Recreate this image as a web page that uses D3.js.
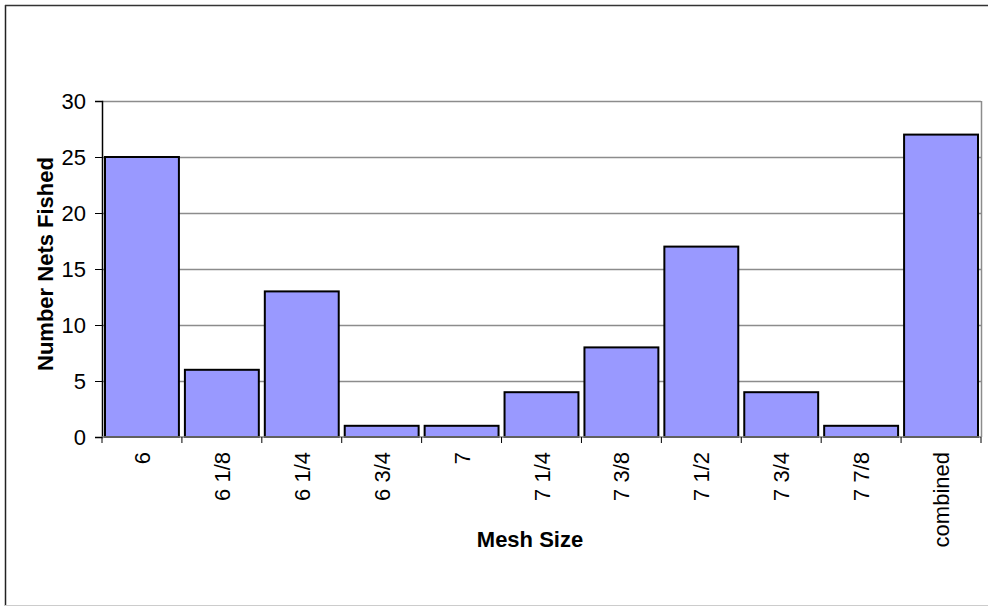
<!DOCTYPE html>
<html>
<head>
<meta charset="utf-8">
<script src="https://cdn.jsdelivr.net/npm/d3@7"></script>
<style>
  html, body { margin: 0; padding: 0; background: #fff; }
  svg { display: block; font-family: "Liberation Sans", Arial, sans-serif; }
</style>
</head>
<body>
<div id="chart"></div>
<script>
// Data
const meshSizes = ["6", "6 1/8", "6 1/4", "6 3/4", "7", "7 1/4", "7 3/8", "7 1/2", "7 3/4", "7 7/8", "combined"];
const netsFished = [25, 6, 13, 1, 1, 4, 8, 17, 4, 1, 27];
const yTicks = [0, 5, 10, 15, 20, 25, 30];

const width = 988;
const height = 606;
const plot = { left: 102, top: 101, right: 981, bottom: 437 };
const fontSize = 22;

const svg = d3.select("#chart").append("svg")
    .attr("width", width)
    .attr("height", height);

// outer chart frame
svg.append("line").attr("x1", 5.5).attr("x2", 5.5).attr("y1", 5).attr("y2", 606)
    .attr("stroke", "#222").attr("stroke-width", 1.5);
svg.append("line").attr("x1", 5).attr("x2", 988).attr("y1", 5.5).attr("y2", 5.5)
    .attr("stroke", "#333").attr("stroke-width", 1.5);
svg.append("line").attr("x1", 5).attr("x2", 988).attr("y1", 605.5).attr("y2", 605.5)
    .attr("stroke", "#ccc").attr("stroke-width", 1);

const x = d3.scaleBand()
    .domain(meshSizes)
    .range([plot.left, plot.right])
    .paddingInner(0.075)
    .paddingOuter(0.0375);

const xEdge = d3.scaleBand()
    .domain(meshSizes)
    .range([plot.left, plot.right]);

const y = d3.scaleLinear()
    .domain([0, 30])
    .range([plot.bottom, plot.top]);

// gridlines
svg.append("g")
    .selectAll("line")
    .data(yTicks.filter(d => d > 0))
    .join("line")
    .attr("x1", plot.left).attr("x2", plot.right)
    .attr("y1", d => Math.round(y(d)) + 0.5).attr("y2", d => Math.round(y(d)) + 0.5)
    .attr("stroke", "#8c8c8c").attr("stroke-width", 1.5);

// right border of plot
svg.append("line")
    .attr("x1", plot.right + 0.5).attr("x2", plot.right + 0.5)
    .attr("y1", plot.top).attr("y2", plot.bottom)
    .attr("stroke", "#8c8c8c").attr("stroke-width", 1.5);

// bars
svg.append("g")
    .selectAll("rect")
    .data(netsFished)
    .join("rect")
    .attr("x", (d, i) => x(meshSizes[i]))
    .attr("y", d => y(d))
    .attr("width", x.bandwidth())
    .attr("height", d => y(0) - y(d))
    .attr("fill", "#9999ff")
    .attr("stroke", "#000")
    .attr("stroke-width", 2);

// y axis
const yAxis = svg.append("g")
    .attr("transform", `translate(${plot.left},0)`)
    .call(d3.axisLeft(y).tickValues(yTicks).tickSize(7).tickPadding(9));
yAxis.select(".domain").attr("stroke", "#000").attr("stroke-width", 1.5);
yAxis.selectAll(".tick line").attr("stroke", "#000");
yAxis.selectAll("text").attr("font-size", fontSize).attr("fill", "#000")
    .attr("font-family", "Liberation Sans, Arial, sans-serif");

// x axis
svg.append("line")
    .attr("x1", plot.left).attr("x2", plot.right)
    .attr("y1", plot.bottom).attr("y2", plot.bottom)
    .attr("stroke", "#808080").attr("stroke-width", 1.5);

svg.append("g")
    .selectAll("line")
    .data(meshSizes.concat([null]))
    .join("line")
    .attr("x1", (d, i) => i < meshSizes.length ? xEdge(d) : plot.right)
    .attr("x2", (d, i) => i < meshSizes.length ? xEdge(d) : plot.right)
    .attr("y1", plot.bottom).attr("y2", plot.bottom + 6)
    .attr("stroke", "#000").attr("stroke-width", 1);

svg.append("g")
    .selectAll("text")
    .data(meshSizes)
    .join("text")
    .attr("transform", d => `translate(${xEdge(d) + xEdge.bandwidth() / 2 + 8},452) rotate(-90)`)
    .attr("text-anchor", "end")
    .attr("font-size", fontSize)
    .text(d => d);

// axis titles
svg.append("text")
    .attr("x", 530).attr("y", 547)
    .attr("text-anchor", "middle")
    .attr("font-size", fontSize).attr("font-weight", "bold")
    .text("Mesh Size");

svg.append("text")
    .attr("transform", "translate(53,264) rotate(-90)")
    .attr("text-anchor", "middle")
    .attr("font-size", fontSize).attr("font-weight", "bold")
    .text("Number Nets Fished");
</script>
</body>
</html>
